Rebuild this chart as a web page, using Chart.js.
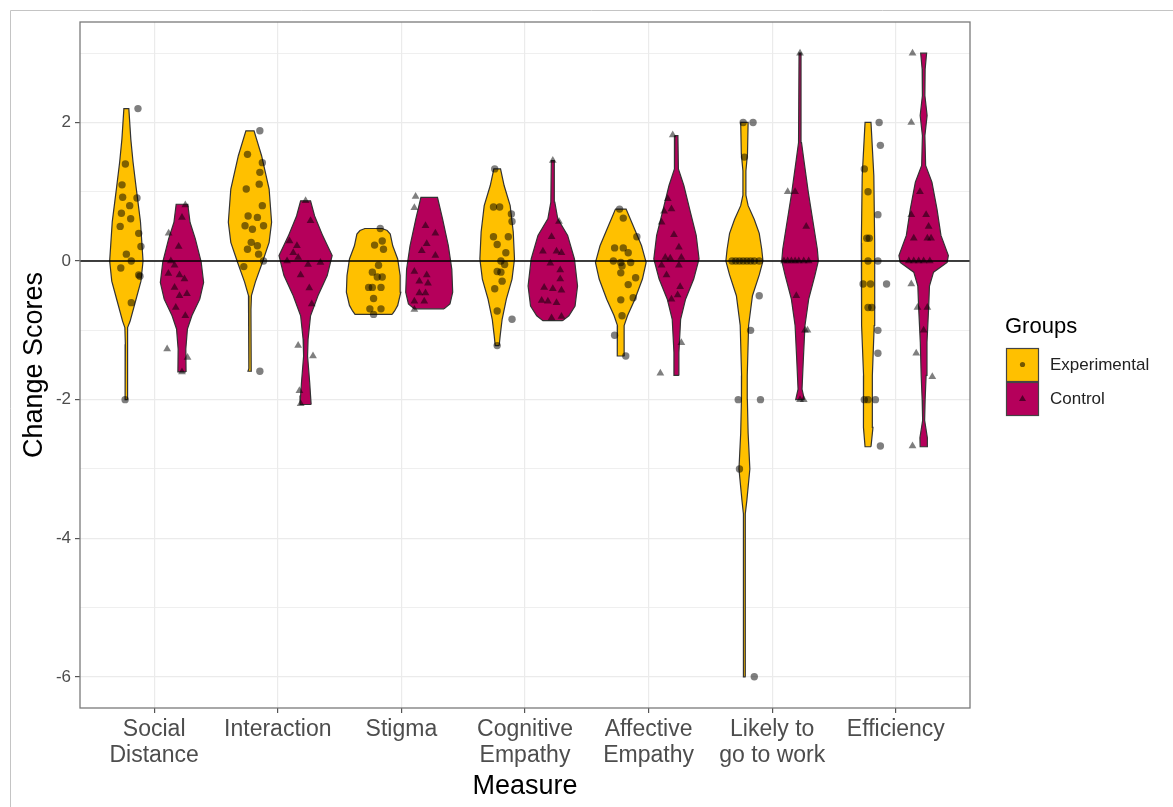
<!DOCTYPE html>
<html>
<head>
<meta charset="utf-8">
<script src="https://cdn.jsdelivr.net/npm/chart.js@4.4.1/dist/chart.umd.min.js"></script>
<style>
html,body{margin:0;padding:0;background:#fff;}
#wrap{width:1173px;height:807px;position:relative;}
</style>
</head>
<body>
<div id="wrap"><canvas id="c" width="1173" height="807"></canvas></div>
<script>
// ---------- data ----------
const categories = [['Social','Distance'],['Interaction'],['Stigma'],['Cognitive','Empathy'],['Affective','Empathy'],['Likely to','go to work'],['Efficiency']];
const groupNames = ['Experimental','Control'];
const yTickValues = [-6,-5,-4,-3,-2,-1,0,1,2,3];
const yLabelledTicks = [-6,-4,-2,0,2];
const xTitle = 'Measure';
const yTitle = 'Change Scores';
const legendTitle = 'Groups';

// violin outlines: change-score levels (top to bottom) and half-widths in category units
const expViolinLevels = [
  [2.2,1.76,1.43,1.05,0.57,0.19,0.0,-0.29,-0.58,-0.87,-0.96,-1.2,-2.0],
  [1.88,1.52,1.04,0.56,0.27,-0.02,-0.3,-0.5,-0.7,-1.55,-1.59],
  [0.47,0.44,0.39,0.22,0.03,-0.21,-0.45,-0.64,-0.72,-0.77],
  [1.33,1.09,0.8,0.42,0.03,-0.26,-0.55,-0.84,-1.08,-1.22],
  [0.75,0.51,0.22,-0.02,-0.26,-0.55,-0.79,-0.93,-1.33,-1.37],
  [2.0,1.55,1.3,0.95,0.8,0.6,0.4,0.17,0.0,-0.2,-0.5,-0.93,-1.65,-2.0,-2.48,-3.0,-3.45,-3.65,-5.9,-6.0],
  [2.0,1.23,0.26,-0.21,-0.93,-1.65,-2.13,-2.4,-2.68]
];
const expViolinHalfWidths = [
  [0.02,0.036,0.054,0.08,0.114,0.128,0.135,0.118,0.074,0.03,0.012,0.008,0.01],
  [0.033,0.094,0.155,0.175,0.155,0.1,0.044,0.012,0.008,0.01,0.016],
  [0.07,0.11,0.135,0.155,0.195,0.215,0.22,0.195,0.17,0.15],
  [0.027,0.056,0.105,0.13,0.14,0.12,0.074,0.04,0.024,0.016],
  [0.043,0.1,0.168,0.205,0.175,0.114,0.054,0.027,0.027,0.03],
  [0.03,0.025,0.012,0.012,0.03,0.08,0.12,0.14,0.15,0.12,0.065,0.034,0.023,0.024,0.03,0.044,0.02,0.008,0.006,0.01],
  [0.024,0.047,0.054,0.054,0.05,0.036,0.034,0.04,0.024]
];
const ctrlViolinLevels = [
  [0.82,0.56,0.32,-0.01,-0.31,-0.55,-0.79,-0.98,-1.27,-1.6],
  [0.87,0.65,0.36,0.08,-0.21,-0.5,-0.79,-1.13,-1.37,-1.75,-1.94,-2.07],
  [0.92,0.61,0.22,-0.12,-0.45,-0.62,-0.69],
  [1.45,0.85,0.61,0.37,0.03,-0.36,-0.65,-0.79,-0.86],
  [1.81,1.33,1.09,0.7,0.37,0.03,-0.26,-0.55,-0.84,-1.32,-1.65],
  [3.0,1.71,1.47,0.99,0.51,0.17,0.0,-0.21,-0.55,-0.93,-1.41,-1.85,-2.0],
  [3.0,2.77,2.39,2.1,1.81,1.38,1.14,0.75,0.37,0.08,-0.02,-0.16,-0.36,-0.69,-1.17,-1.65,-2.0,-2.3,-2.55,-2.68]
];
const ctrlViolinHalfWidths = [
  [0.047,0.065,0.108,0.155,0.175,0.144,0.08,0.044,0.031,0.033],
  [0.04,0.073,0.14,0.215,0.175,0.1,0.04,0.02,0.016,0.033,0.04,0.045],
  [0.067,0.108,0.155,0.183,0.19,0.168,0.12],
  [0.012,0.016,0.04,0.12,0.175,0.2,0.18,0.13,0.08],
  [0.012,0.016,0.06,0.114,0.16,0.183,0.14,0.074,0.034,0.02,0.02],
  [0.008,0.012,0.03,0.067,0.11,0.14,0.148,0.12,0.07,0.04,0.027,0.016,0.035],
  [0.024,0.012,0.01,0.028,0.01,0.016,0.067,0.108,0.14,0.2,0.19,0.08,0.047,0.04,0.027,0.02,0.012,0.008,0.03,0.028]
];

// individual change scores and their horizontal jitter (category units), per measure
const expScores = [
  [2.2,1.4,1.1,0.92,0.91,0.8,0.69,0.61,0.5,0.4,0.21,0.1,0.0,-0.1,-0.2,-0.22,-0.6,-2.0],
  [1.88,1.54,1.42,1.28,1.11,1.04,0.8,0.65,0.63,0.51,0.46,0.51,0.27,0.22,0.17,0.1,0.0,-0.08,-1.59],
  [0.47,0.29,0.23,0.17,-0.06,-0.16,-0.23,-0.23,-0.38,-0.38,-0.38,-0.54,-0.69,-0.69,-0.77],
  [1.33,0.78,0.78,0.68,0.57,0.35,0.35,0.24,0.12,0.0,-0.05,-0.15,-0.16,-0.29,-0.4,-0.72,-0.84,-1.22],
  [0.75,0.62,0.35,0.19,0.19,0.12,0.0,-0.02,-0.02,-0.07,-0.17,-0.24,-0.34,-0.56,-0.53,-0.79,-1.07,-1.37],
  [2.0,2.0,1.5,0,0,0,0,0,0,0,0,-0.5,-1.0,-2.0,-2.0,-3.0,-6.0],
  [2.0,1.67,1.33,1.0,0.67,0.33,0.33,0,0,-0.33,-0.33,-0.33,-0.67,-0.67,-1.0,-1.33,-2.0,-2.0,-2.0,-2.67]
];
const expJitter = [
  [0.094,-0.008,-0.035,-0.03,0.086,0.027,-0.04,0.035,-0.05,0.1,0.118,0.0,0.04,-0.045,0.1,0.11,0.04,-0.01],
  [0.08,-0.02,0.1,0.08,0.075,-0.03,0.1,-0.015,0.06,-0.04,0.02,0.11,0.01,0.06,-0.02,0.07,0.11,-0.05,0.08],
  [0.054,0.07,0.008,0.08,0.04,-0.01,0.03,0.07,-0.04,-0.01,0.06,0.0,-0.03,0.06,0.0],
  [-0.02,-0.03,0.02,0.115,0.12,-0.03,0.09,0.0,0.07,0.03,0.06,0.0,0.03,0.04,-0.02,0.0,0.12,0.0],
  [-0.01,0.02,0.13,-0.05,0.02,0.06,-0.06,0.0,0.08,0.01,0.0,0.12,0.06,0.0,0.1,0.01,-0.05,0.04],
  [-0.01,0.07,0.0,-0.1,-0.07,-0.04,-0.01,0.02,0.05,0.08,0.12,0.12,0.05,-0.05,0.13,-0.04,0.08],
  [0.09,0.1,-0.03,0.0,0.08,-0.01,0.01,0.0,0.08,-0.04,0.02,0.15,0.0,0.03,0.08,0.08,-0.03,0.0,0.06,0.1]
];
const ctrlScores = [
  [0.81,0.63,0.4,0.21,0.0,-0.06,-0.18,-0.2,-0.26,-0.38,-0.5,-0.47,-0.67,-0.79,-1.27,-1.39,-1.6],
  [0.87,0.58,0.29,0.22,0.12,0.05,0.0,-0.02,-0.05,-0.2,-0.39,-0.62,-1.22,-1.37,-1.87,-2.06],
  [0.93,0.77,0.51,0.4,0.25,0.15,0.08,-0.15,-0.2,-0.29,-0.32,-0.46,-0.46,-0.58,-0.58,-0.7],
  [1.45,0.57,0.35,0.14,0.14,0.12,-0.03,-0.13,-0.26,-0.38,-0.4,-0.42,-0.57,-0.58,-0.6,-0.8,-0.82],
  [1.82,0.9,0.75,0.72,0.56,0.38,0.2,0.05,0.04,0.05,-0.06,-0.06,-0.2,-0.37,-0.49,-0.55,-1.18,-1.62],
  [3.0,1.0,1.0,0.5,0,0,0,0,0,0,0,-0.5,-1.0,-1.0,-2.0,-2.0],
  [3.0,2.0,1.0,0.67,0.67,0.5,0.33,0.33,0.33,0,0,0,0,0,-0.33,-0.67,-0.67,-1.0,-1.33,-1.67,-2.67]
];
const ctrlJitter = [
  [0.027,0.0,-0.108,-0.027,-0.09,-0.06,-0.11,-0.02,0.02,-0.06,-0.02,0.04,-0.05,0.027,-0.12,0.045,0.0],
  [0.0,0.04,-0.13,-0.07,-0.1,-0.06,-0.15,0.12,0.02,-0.04,0.03,0.05,-0.06,0.06,-0.05,-0.04],
  [-0.11,-0.12,-0.03,0.05,-0.02,-0.06,0.05,-0.12,-0.02,-0.08,-0.01,-0.08,-0.03,-0.12,-0.04,-0.12],
  [0.0,0.05,-0.01,-0.08,0.03,0.07,-0.02,0.06,0.06,-0.07,0.0,0.07,-0.09,-0.04,0.03,0.07,-0.01],
  [-0.03,-0.07,-0.04,-0.1,-0.12,-0.02,0.02,-0.09,-0.05,0.04,-0.12,0.02,-0.08,0.03,0.01,-0.04,0.04,-0.13],
  [0.0,-0.1,-0.04,0.05,-0.13,-0.1,-0.07,-0.04,-0.01,0.03,0.07,-0.03,0.04,0.06,0.0,0.03],
  [-0.09,-0.1,-0.03,-0.1,0.02,0.04,-0.08,0.03,0.06,-0.12,-0.08,-0.04,0.0,0.05,-0.1,-0.05,0.03,0.0,-0.06,0.07,-0.09]
];
const referenceLineY = 0;

// ---------- styling ----------
const EXP_COLOR = '#FFC000';
const CTRL_COLOR = '#B5005B';
const OUTLINE = '#333333';
const DODGE = 0.225;
const FONT = "'Liberation Sans', Arial, Helvetica, sans-serif";

function violinPolygon(center, levels, widths) {
  const pts = [];
  for (let k = levels.length - 1; k >= 0; k--) pts.push({x: center + widths[k], y: levels[k]});
  for (let k = 0; k < levels.length; k++) pts.push({x: center - widths[k], y: levels[k]});
  pts.push({x: pts[0].x, y: pts[0].y});
  return pts;
}

const datasets = [];
categories.forEach((c, i) => {
  datasets.push({
    label: groupNames[0] + ' ' + c.join(' '),
    data: violinPolygon(i + 1 - DODGE, expViolinLevels[i], expViolinHalfWidths[i]),
    showLine: true, fill: 'shape', tension: 0,
    backgroundColor: EXP_COLOR, borderColor: OUTLINE, borderWidth: 1.2,
    pointRadius: 0, pointHoverRadius: 0, order: 3
  });
  datasets.push({
    label: groupNames[1] + ' ' + c.join(' '),
    data: violinPolygon(i + 1 + DODGE, ctrlViolinLevels[i], ctrlViolinHalfWidths[i]),
    showLine: true, fill: 'shape', tension: 0,
    backgroundColor: CTRL_COLOR, borderColor: OUTLINE, borderWidth: 1.2,
    pointRadius: 0, pointHoverRadius: 0, order: 3
  });
});
datasets.push({
  label: 'zero',
  data: [{x: 0.4, y: referenceLineY}, {x: 7.6, y: referenceLineY}],
  showLine: true, fill: false, borderColor: '#000', borderWidth: 1.6,
  pointRadius: 0, order: 2
});
const expPts = [], ctrlPts = [];
categories.forEach((c, i) => {
  expScores[i].forEach((v, j) => expPts.push({x: i + 1 - DODGE + expJitter[i][j], y: v}));
  ctrlScores[i].forEach((v, j) => ctrlPts.push({x: i + 1 + DODGE + ctrlJitter[i][j], y: v}));
});
datasets.push({
  label: groupNames[0] + ' points', data: expPts, showLine: false,
  pointStyle: 'circle', pointRadius: 3.7, pointBackgroundColor: 'rgba(0,0,0,0.5)',
  pointBorderWidth: 0, order: 1
});
datasets.push({
  label: groupNames[1] + ' points', data: ctrlPts, showLine: false,
  pointStyle: 'triangle', pointRadius: 4.5, pointBackgroundColor: 'rgba(0,0,0,0.5)',
  pointBorderWidth: 0, order: 1
});

const decorPlugin = {
  id: 'decor',
  beforeDraw(chart) {
    const ctx = chart.ctx;
    ctx.save();
    ctx.fillStyle = '#fff';
    ctx.fillRect(0, 0, chart.width, chart.height);
    ctx.strokeStyle = '#c4c4c4';
    ctx.lineWidth = 1;
    ctx.beginPath();
    ctx.moveTo(10.5, chart.height); ctx.lineTo(10.5, 10.5); ctx.lineTo(chart.width, 10.5);
    ctx.stroke();
    ctx.restore();
  },
  afterDraw(chart) {
    const ctx = chart.ctx, a = chart.chartArea;
    ctx.save();
    // panel border
    ctx.strokeStyle = '#7a7a7a';
    ctx.lineWidth = 1.3;
    ctx.strokeRect(a.left, a.top, a.right - a.left, a.bottom - a.top);
    // axis titles
    ctx.fillStyle = '#000';
    ctx.font = '27px ' + FONT;
    ctx.textAlign = 'center';
    ctx.textBaseline = 'middle';
    ctx.fillText(xTitle, (a.left + a.right) / 2, 787);
    ctx.save();
    ctx.translate(35, (a.top + a.bottom) / 2);
    ctx.rotate(-Math.PI / 2);
    ctx.fillText(yTitle, 0, 0);
    ctx.restore();
    // legend
    ctx.textAlign = 'left';
    ctx.font = '22px ' + FONT;
    ctx.fillText(legendTitle, 1005, 327);
    const keys = [{c: EXP_COLOR, y: 348, shape: 'circle'}, {c: CTRL_COLOR, y: 382, shape: 'triangle'}];
    keys.forEach((k, i) => {
      ctx.fillStyle = k.c;
      ctx.fillRect(1006, k.y, 32, 33);
      ctx.strokeStyle = '#444';
      ctx.lineWidth = 1.2;
      ctx.strokeRect(1006.5, k.y + 0.5, 32, 33);
      ctx.fillStyle = 'rgba(0,0,0,0.55)';
      const cx = 1022.5, cy = k.y + 16.5;
      ctx.beginPath();
      if (k.shape === 'circle') {
        ctx.arc(cx, cy, 2.6, 0, Math.PI * 2);
      } else {
        ctx.moveTo(cx, cy - 3.5); ctx.lineTo(cx + 3.5, cy + 2.5); ctx.lineTo(cx - 3.5, cy + 2.5); ctx.closePath();
      }
      ctx.fill();
      ctx.fillStyle = '#222';
      ctx.font = '17px ' + FONT;
      ctx.fillText(groupNames[i], 1050, k.y + 17);
    });
    ctx.restore();
  }
};

new Chart(document.getElementById('c'), {
  type: 'scatter',
  data: { datasets },
  plugins: [decorPlugin],
  options: {
    responsive: false,
    animation: false,
    events: [],
    layout: { padding: { top: 22, right: 203, left: 0, bottom: 0 } },
    plugins: {
      legend: { display: false },
      tooltip: { enabled: false },
      filler: { drawTime: 'beforeDatasetDraw' }
    },
    scales: {
      x: {
        type: 'linear', min: 0.4, max: 7.6,
        afterBuildTicks(scale) { scale.ticks = categories.map((c, i) => ({value: i + 1})); },
        afterFit(scale) { scale.height = 99; },
        ticks: {
          autoSkip: false, maxRotation: 0, padding: 4,
          color: '#4d4d4d',
          font: { family: FONT, size: 23, lineHeight: 1.13 },
          callback(v) { return categories[Math.round(v) - 1]; }
        },
        grid: { color: '#ebebeb', lineWidth: 1.2, tickLength: 5, tickColor: '#555', drawTicks: true },
        border: { display: false }
      },
      y: {
        type: 'linear', min: -6.45, max: 3.45,
        afterBuildTicks(scale) { scale.ticks = yTickValues.map(v => ({value: v})); },
        afterFit(scale) { scale.width = 80; },
        ticks: {
          autoSkip: false, padding: 4, color: '#4d4d4d',
          font: { family: FONT, size: 17 },
          callback(v) { return yLabelledTicks.includes(v) ? String(v) : ''; }
        },
        grid: {
          color: '#ebebeb',
          lineWidth: (ctx) => (ctx.tick && yLabelledTicks.includes(ctx.tick.value)) ? 1.2 : 0.8,
          tickLength: 5,
          tickColor: (ctx) => (ctx.tick && yLabelledTicks.includes(ctx.tick.value)) ? '#555' : 'rgba(0,0,0,0)'
        },
        border: { display: false }
      }
    }
  }
});
</script>
</body>
</html>
